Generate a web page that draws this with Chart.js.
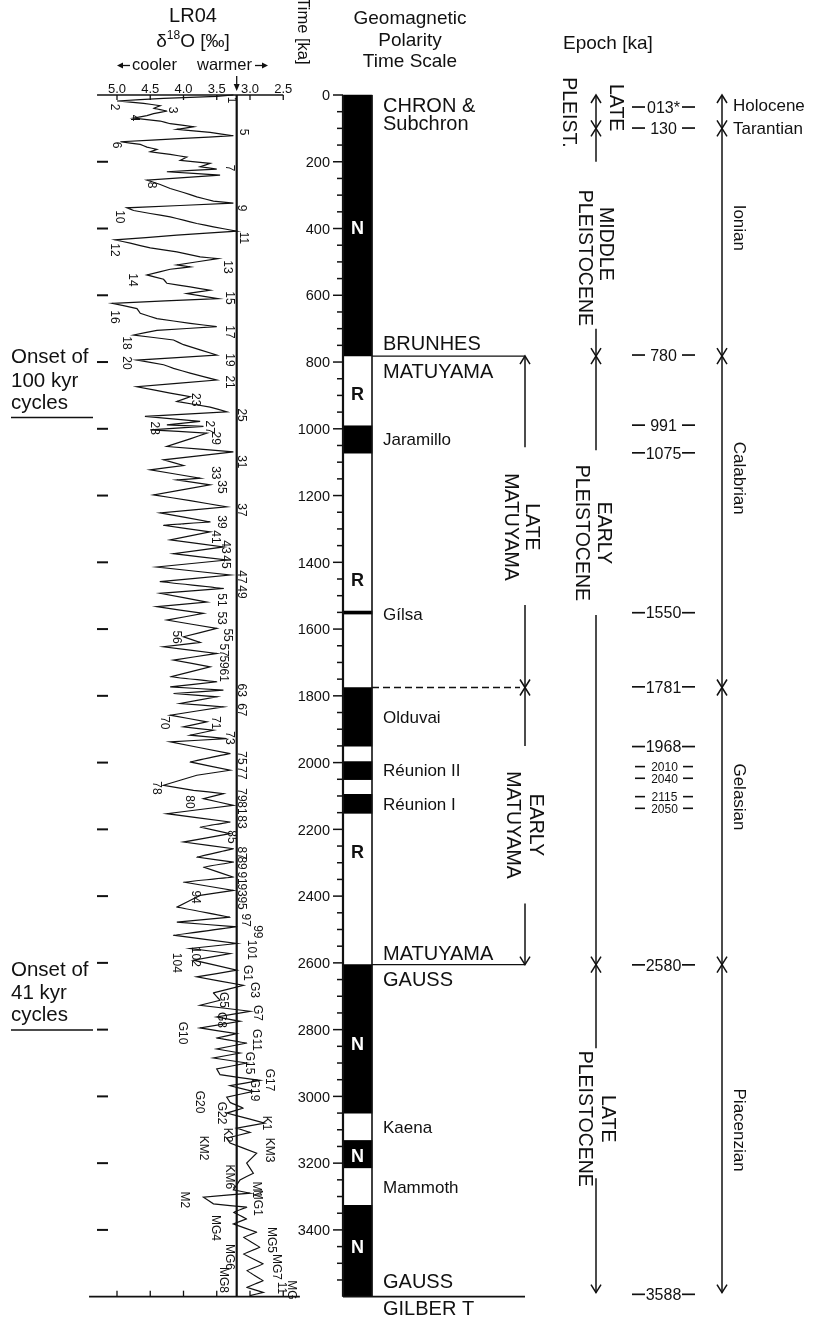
<!DOCTYPE html>
<html>
<head>
<meta charset="utf-8">
<script src="https://cdn.jsdelivr.net/npm/chart.js@4.4.1/dist/chart.umd.min.js"></script>
<style>
  html, body { margin: 0; background: #fff; }
  canvas { display: block; }
</style>
</head>
<body>
<canvas id="c" width="814" height="1319"></canvas>
<script>
// LR04 benthic stack: age (ka) and d18O (permil)
const isoAge = [
  0, 4, 10, 18, 25, 32, 40, 48, 56, 62,
  69, 78, 86, 95, 103, 112, 122, 130, 140, 148,
  156, 163, 170, 178, 186, 196, 205, 215, 222, 230,
  240, 255, 268, 280, 292, 305, 318, 324, 338, 346,
  355, 365, 375, 385, 395, 408, 420, 434, 444, 458,
  470, 485, 490, 509, 515, 522, 539, 552, 564, 575,
  585, 595, 610, 624, 640, 654, 670, 684, 694, 705,
  719, 734, 748, 779, 794, 808, 819, 833, 854, 874,
  893, 904, 918, 935, 949, 963, 978, 988, 993, 1003,
  1013, 1030, 1053, 1069, 1093, 1110, 1123, 1148, 1153, 1168,
  1198, 1215, 1234, 1252, 1279, 1289, 1309, 1333, 1354, 1374,
  1393, 1414, 1438, 1458, 1478, 1493, 1519, 1533, 1553, 1573,
  1598, 1623, 1640, 1653, 1673, 1693, 1713, 1743, 1758, 1773,
  1783, 1793, 1803, 1823, 1833, 1858, 1878, 1893, 1903, 1918,
  1928, 1938, 1973, 1998, 2023, 2038, 2068, 2083, 2093, 2108,
  2128, 2153, 2178, 2193, 2213, 2238, 2258, 2283, 2298, 2313,
  2343, 2358, 2383, 2398, 2433, 2463, 2478, 2492, 2517, 2542,
  2557, 2572, 2592, 2622, 2642, 2667, 2690, 2712, 2727, 2745,
  2762, 2775, 2795, 2812, 2825, 2840, 2858, 2870, 2885, 2900,
  2918, 2935, 2952, 2968, 2985, 3002, 3018, 3035, 3050, 3068,
  3080, 3095, 3108, 3125, 3140, 3170, 3200, 3230, 3250, 3280,
  3290, 3302, 3322, 3332, 3347, 3367, 3382, 3407, 3422, 3452,
  3472, 3502, 3522, 3552, 3572, 3587, 3597
];
const isoValue = [
  3.25, 3.5, 4.3, 5.0, 4.6, 4.35, 4.45, 4.25, 4.45, 4.55,
  4.75, 4.35, 4.2, 3.85, 4.1, 3.6, 3.25, 4.0, 4.95, 4.65,
  4.55, 4.4, 4.5, 4.2, 3.95, 4.05, 3.6, 3.75, 3.5, 4.25,
  3.45, 4.55, 4.35, 4.2, 4.0, 3.8, 3.55, 3.25, 4.85, 4.75,
  4.5, 4.2, 4.0, 3.8, 3.55, 3.2, 4.1, 5.03, 4.8, 4.5,
  4.1, 3.75, 3.48, 4.1, 3.9, 4.2, 4.55, 4.3, 4.25, 3.9,
  3.6, 3.95, 3.48, 5.07, 4.7, 4.65, 4.4, 3.9, 3.5, 4.4,
  4.75, 4.15, 4.0, 3.5, 4.7, 4.3, 4.15, 3.9, 3.5, 4.7,
  4.2, 3.9, 4.1, 3.6, 3.35, 4.58, 3.75, 4.25, 3.7, 4.5,
  3.65, 3.9, 4.25, 3.25, 4.3, 4.0, 4.5, 3.75, 4.1, 3.6,
  4.45, 3.9, 3.35, 4.35, 3.6, 4.3, 3.6, 4.2, 3.4, 4.15,
  3.35, 4.4, 3.3, 4.35, 3.4, 4.35, 3.65, 4.4, 3.7, 4.25,
  3.5, 4.0, 3.75, 4.3, 3.5, 4.15, 3.6, 4.2, 3.5, 4.2,
  3.4, 4.15, 3.5, 4.05, 3.4, 4.2, 3.65, 4.0, 3.55, 3.9,
  3.35, 4.2, 3.3, 3.9, 3.3, 3.8, 4.3, 3.85, 3.4, 3.7,
  3.25, 4.25, 3.3, 3.75, 3.3, 4.0, 3.25, 3.8, 3.25, 3.7,
  3.25, 4.0, 3.25, 3.75, 4.1, 3.3, 4.1, 3.2, 4.15, 3.2,
  3.9, 3.3, 3.85, 3.2, 3.8, 3.1, 3.55, 3.45, 3.75, 3.0,
  3.5, 3.15, 3.75, 3.2, 3.5, 3.05, 3.5, 3.15, 3.55, 3.05,
  3.5, 3.45, 2.85, 3.3, 2.95, 3.35, 3.3, 3.1, 3.35, 3.0,
  2.78, 3.2, 3.0, 3.35, 3.3, 2.9, 3.05, 2.95, 3.15, 3.25,
  3.0, 3.7, 3.55, 3.05, 3.25, 3.05, 3.25, 2.9, 3.1, 2.85,
  3.1, 2.8, 3.05, 2.8, 3.05, 2.8, 3.0
];

// marine isotope stage labels: text, d18O position, age
const misText = ['1','2','3','4','5','6','7','8','9','10','11','12','13','14','15','16','17','18','19','20',
  '21','23','25','27','28','29','31','33','35','37','39','41','43','45','47','49','51','53','55','56',
  '57','59','61','63','67','70','71','73','75','77','78','79','80','81','83','85','87','89','91','93',
  '94','95','97','99','101','102','104','G1','G3','G5','G7','G8','G10','G11','G15','G17','G19','G20','G22','K1',
  'K2','KM2','KM3','KM6','M1','M2','MG1','MG4','MG5','MG6','MG7','MG8','11','MG'];
const misIso = [3.26,5.03,4.16,4.73,3.08,5.0,3.3,4.47,3.12,4.95,3.08,5.03,3.33,4.76,3.3,5.03,3.3,4.85,3.3,4.85,
  3.3,3.8,3.11,3.6,4.43,3.5,3.11,3.5,3.41,3.11,3.41,3.5,3.35,3.35,3.11,3.11,3.42,3.42,3.33,4.1,
  3.38,3.38,3.38,3.11,3.11,4.28,3.5,3.3,3.11,3.11,4.4,3.11,3.9,3.11,3.11,3.27,3.11,3.11,3.11,3.11,
  3.8,3.11,3.05,2.88,2.97,3.8,4.1,3.03,2.92,3.38,2.88,3.41,4.01,2.89,3.0,2.7,2.92,3.75,3.42,2.74,
  3.33,3.68,2.7,3.3,2.89,3.98,2.88,3.5,2.67,3.3,2.59,3.38,2.52,2.37];
const misAge = [15,36,45,69,111,150,219,270,339,365,428,464,515,554,608,665,710,743,794,803,
  860,913,959,995,998,1028,1099,1132,1174,1243,1279,1324,1354,1399,1444,1489,1513,1567,1618,1624,
  1663,1699,1738,1783,1842,1881,1881,1926,1986,2031,2076,2097,2118,2136,2178,2223,2271,2301,2346,2382,
  2403,2421,2472,2507,2561,2582,2600,2630,2681,2711,2750,2771,2810,2831,2900,2951,2981,3017,3050,3080,
  3116,3155,3161,3241,3280,3310,3319,3394,3430,3481,3511,3550,3574,3580];

// normal polarity intervals (black in the column), ka as drawn
const normalStart = [0, 991, 1546, 1775, 1997, 2095, 2605, 3132, 3326];
const normalEnd = [782, 1073, 1555, 1951, 2051, 2152, 3050, 3214, 3600];

const isoTicks = [5.0, 4.5, 4.0, 3.5, 3.0, 2.5];
const isoTickText = ['5.0', '4.5', '4.0', '3.5', '3.0', '2.5'];
const timeMajor = [0,200,400,600,800,1000,1200,1400,1600,1800,2000,2200,2400,2600,2800,3000,3200,3400];

const chronNames = ['CHRON &','Subchron','BRUNHES','MATUYAMA','Jaramillo','Gílsa','Olduvai','Réunion II','Réunion I',
  'MATUYAMA','GAUSS','Kaena','Mammoth','GAUSS','GILBER T'];
const chronTimes = [28, 83, 741, 825, 1029, 1553, 1862, 2022, 2124, 2569, 2648, 3092, 3270, 3552, 3633];
const chronSizes = [20, 20, 20, 20, 17, 17, 17, 17, 17, 20, 20, 17, 17, 20, 20];
const polarityLetters = ['N','R','R','R','N','N','N'];
const polarityTimes = [398, 893, 1452, 2266, 2842, 3176, 3450];

const ageText = ['013*','130','780','991','1075','1550','1781','1968','2580','3588'];
const ageTimes = [36, 99, 779, 989, 1072, 1551, 1773, 1952, 2606, 3593];
const smallAgeText = ['2010','2040','2115','2050'];
const smallAgeTimes = [2012, 2047, 2102, 2137];

const stageNames = ['Ionian','Calabrian','Gelasian','Piacenzian'];
const stageTimes = [398, 1148, 2103, 3101];
const onsetText = [['Onset of','100 kyr','cycles'], ['Onset of','41 kyr','cycles']];
const onsetTimes = [966, 2801];

const FONT = "'Liberation Sans', Arial, Helvetica, sans-serif";

function txt(ctx, s, x, yc, fs, align, weight) {
  ctx.font = (weight || '') + ' ' + fs + 'px ' + FONT;
  ctx.textAlign = align || 'left';
  ctx.textBaseline = 'alphabetic';
  ctx.fillText(s, x, yc + 0.36 * fs);
}

// text turned 90deg clockwise, centred on (xc, yc)
function rtxt(ctx, s, xc, yc, fs) {
  ctx.save();
  ctx.translate(xc, yc);
  ctx.rotate(Math.PI / 2);
  ctx.font = fs + 'px ' + FONT;
  ctx.textAlign = 'center';
  ctx.textBaseline = 'alphabetic';
  ctx.fillText(s, 0, 0.36 * fs);
  ctx.restore();
}

function seg(ctx, x1, y1, x2, y2, w, dash) {
  ctx.save();
  ctx.lineWidth = w || 1.5;
  ctx.setLineDash(dash || []);
  ctx.beginPath();
  ctx.moveTo(x1, y1);
  ctx.lineTo(x2, y2);
  ctx.stroke();
  ctx.restore();
}

function chevron(ctx, x, y, dir) {
  // dir = -1 points up, +1 points down
  ctx.save();
  ctx.lineWidth = 1.5;
  ctx.beginPath();
  ctx.moveTo(x - 5, y - dir * 8);
  ctx.lineTo(x, y);
  ctx.lineTo(x + 5, y - dir * 8);
  ctx.stroke();
  ctx.restore();
}

const decor = {
  id: 'decor',
  afterDatasetsDraw(chart) {
    const ctx = chart.ctx;
    const X = v => chart.scales.px.getPixelForValue(v);
    const D = v => chart.scales.d18.getPixelForValue(v);
    const T = t => chart.scales.y.getPixelForValue(t);
    ctx.save();
    ctx.fillStyle = '#111';
    ctx.strokeStyle = '#111';

    // ---- d18O panel axes
    seg(ctx, D(5.3), T(0), D(2.5), T(0), 1.6);
    seg(ctx, D(5.42), T(3600), D(2.25), T(3600), 1.6);
    seg(ctx, D(3.2), T(0), D(3.2), T(3600), 2.2);
    isoTicks.forEach((v, i) => {
      seg(ctx, D(v), T(0), D(v), T(0) + 5, 1.3);
      seg(ctx, D(v), T(3600), D(v), T(3600) - 6, 1.3);
      txt(ctx, isoTickText[i], D(v), T(0) - 7, 13, 'center');
    });
    timeMajor.slice(1).forEach(t => seg(ctx, 97, T(t), 108, T(t), 2));

    // header of d18O panel
    txt(ctx, 'LR04', 193, 14.5, 20, 'center');
    ctx.font = '19px ' + FONT;
    const w1 = ctx.measureText('\u03b4').width, w3 = ctx.measureText('O [\u2030]').width;
    ctx.font = '12px ' + FONT;
    const w2 = ctx.measureText('18').width;
    let sx = 193 - (w1 + w2 + w3) / 2;
    ctx.textAlign = 'left';
    ctx.textBaseline = 'alphabetic';
    ctx.font = '19px ' + FONT; ctx.fillText('\u03b4', sx, 47);
    ctx.font = '12px ' + FONT; ctx.fillText('18', sx + w1, 39);
    ctx.font = '19px ' + FONT; ctx.fillText('O [\u2030]', sx + w1 + w2, 47);
    ctx.font = '16.5px ' + FONT;
    ctx.fillText('cooler', 132, 70);
    ctx.fillText('warmer', 197, 70);
    seg(ctx, 121, 65.5, 130, 65.5, 1.3);
    seg(ctx, 255, 65.5, 264, 65.5, 1.3);
    ctx.beginPath(); ctx.moveTo(117, 65.5); ctx.lineTo(123, 62.5); ctx.lineTo(123, 68.5); ctx.fill();
    ctx.beginPath(); ctx.moveTo(268, 65.5); ctx.lineTo(262, 62.5); ctx.lineTo(262, 68.5); ctx.fill();
    seg(ctx, D(3.2), 76, D(3.2), 86, 1.3);
    ctx.beginPath(); ctx.moveTo(D(3.2), 91); ctx.lineTo(D(3.2) - 3, 84); ctx.lineTo(D(3.2) + 3, 84); ctx.fill();

    // MIS labels
    misText.forEach((s, i) => rtxt(ctx, s, D(misIso[i]), T(misAge[i]), 12));

    // onset notes
    onsetText.forEach((lines, i) => {
      const yb = T(onsetTimes[i]);
      txt(ctx, lines[0], 11, yb - 61.5, 20.5);
      txt(ctx, lines[1], 11, yb - 38, 20.5);
      txt(ctx, lines[2], 11, yb - 16, 20.5);
      seg(ctx, 11, yb, 93, yb, 1.6);
    });

    // ---- time axis and polarity column
    rtxt(ctx, 'Time [ka]', 304, 31, 16.5);
    txt(ctx, 'Geomagnetic', 410, 17, 19, 'center');
    txt(ctx, 'Polarity', 410, 39, 19, 'center');
    txt(ctx, 'Time Scale', 410, 60, 19, 'center');
    seg(ctx, X(343), T(0), X(343), T(3600), 2.2);
    seg(ctx, X(372), T(0), X(372), T(3600), 1.6);
    for (let t = 50; t < 3600; t += 50) {
      const major = t % 200 === 0;
      seg(ctx, X(major ? 333 : 337), T(t), X(343), T(t), 1.5);
    }
    seg(ctx, X(333), T(0), X(343), T(0), 1.5);
    timeMajor.forEach(t => txt(ctx, String(t), X(330), T(t), 14.5, 'right'));
    seg(ctx, X(343), T(3600), X(525), T(3600), 1.6);
    seg(ctx, X(372), T(782), X(525), T(782), 1.3);
    seg(ctx, X(372), T(2605), X(525), T(2605), 1.3);
    seg(ctx, X(372), T(1775), X(520), T(1775), 1.4, [7, 4]);

    chronNames.forEach((s, i) => txt(ctx, s, X(383), T(chronTimes[i]), chronSizes[i]));
    polarityLetters.forEach((s, i) => {
      ctx.fillStyle = s === 'N' ? '#fff' : '#111';
      txt(ctx, s, X(357.5), T(polarityTimes[i]), 18, 'center', 'bold');
    });
    ctx.fillStyle = '#111';

    // ---- arrows
    const arrow = (x, t0, t1, heads) => {
      seg(ctx, X(x), T(t0), X(x), T(t1), 1.5);
      if (heads === 'up' || heads === 'both') chevron(ctx, X(x), T(t0), -1);
      if (heads === 'down' || heads === 'both') chevron(ctx, X(x), T(t1), 1);
    };
    arrow(525, 782, 1055, 'up');
    arrow(525, 1528, 1775, 'down');
    arrow(525, 1775, 1950, 'up');
    arrow(525, 2422, 2605, 'down');
    rtxt(ctx, 'LATE', X(533), T(1294), 19.5);
    rtxt(ctx, 'MATUYAMA', X(512), T(1294), 19.5);
    rtxt(ctx, 'EARLY', X(537), T(2187), 19.5);
    rtxt(ctx, 'MATUYAMA', X(514), T(2187), 19.5);

    arrow(596, 0, 100, 'both');
    arrow(596, 100, 200, 'up');
    arrow(596, 700, 782, 'down');
    arrow(596, 782, 1064, 'up');
    arrow(596, 1558, 2605, 'down');
    arrow(596, 2605, 2856, 'up');
    arrow(596, 3245, 3588, 'down');
    rtxt(ctx, 'LATE', X(617), T(38), 19.5);
    rtxt(ctx, 'PLEIST.', X(570), T(52), 19.5);
    rtxt(ctx, 'MIDDLE', X(607), T(446), 19.5);
    rtxt(ctx, 'PLEISTOCENE', X(586), T(488), 19.5);
    rtxt(ctx, 'EARLY', X(605), T(1312), 19.5);
    rtxt(ctx, 'PLEISTOCENE', X(583), T(1312), 19.5);
    rtxt(ctx, 'LATE', X(609), T(3067), 19.5);
    rtxt(ctx, 'PLEISTOCENE', X(586), T(3067), 19.5);

    arrow(722, 0, 100, 'both');
    arrow(722, 100, 782, 'both');
    arrow(722, 782, 1775, 'both');
    arrow(722, 1775, 2605, 'both');
    arrow(722, 2605, 3588, 'both');
    stageNames.forEach((s, i) => rtxt(ctx, s, X(740), T(stageTimes[i]), 17));
    txt(ctx, 'Holocene', X(733), T(30), 17);
    txt(ctx, 'Tarantian', X(733), T(100), 17);

    // ---- epoch ages
    txt(ctx, 'Epoch [ka]', X(563), 42, 19);
    ageText.forEach((s, i) => {
      const y = T(ageTimes[i]);
      seg(ctx, X(632), y, X(645), y, 1.7);
      seg(ctx, X(682), y, X(695), y, 1.7);
      txt(ctx, s, X(663.5), y, 16, 'center');
    });
    smallAgeText.forEach((s, i) => {
      const y = T(smallAgeTimes[i]);
      seg(ctx, X(635), y, X(645), y, 1.6);
      seg(ctx, X(683), y, X(693), y, 1.6);
      txt(ctx, s, X(664.5), y, 12, 'center');
    });
    ctx.restore();
  }
};

const curve = isoAge.map((t, i) => ({ x: isoValue[i], y: t }));
const polarity = normalStart.map((s, i) => ({ x: 357.5, y: [s, normalEnd[i]] }));

new Chart(document.getElementById('c'), {
  type: 'line',
  data: {
    datasets: [
      {
        type: 'line', data: curve, xAxisID: 'd18', yAxisID: 'y',
        borderColor: '#111', borderWidth: 1.2, pointRadius: 0, tension: 0.0001, fill: false
      },
      {
        type: 'bar', data: polarity, xAxisID: 'px', yAxisID: 'y',
        backgroundColor: '#000', borderWidth: 0, barThickness: 29, grouped: false
      }
    ]
  },
  options: {
    responsive: false,
    animation: false,
    events: [],
    layout: { padding: 0 },
    plugins: { legend: { display: false }, tooltip: { enabled: false } },
    scales: {
      d18: { type: 'linear', axis: 'x', reverse: true, min: -5.4812, max: 6.7594, offset: false, display: false },
      px: { type: 'linear', axis: 'x', min: 0, max: 814, offset: false, display: false },
      y: { type: 'linear', reverse: true, min: -284.6, max: 3666.9, offset: false, display: false }
    }
  },
  plugins: [decor]
});
</script>
</body>
</html>
